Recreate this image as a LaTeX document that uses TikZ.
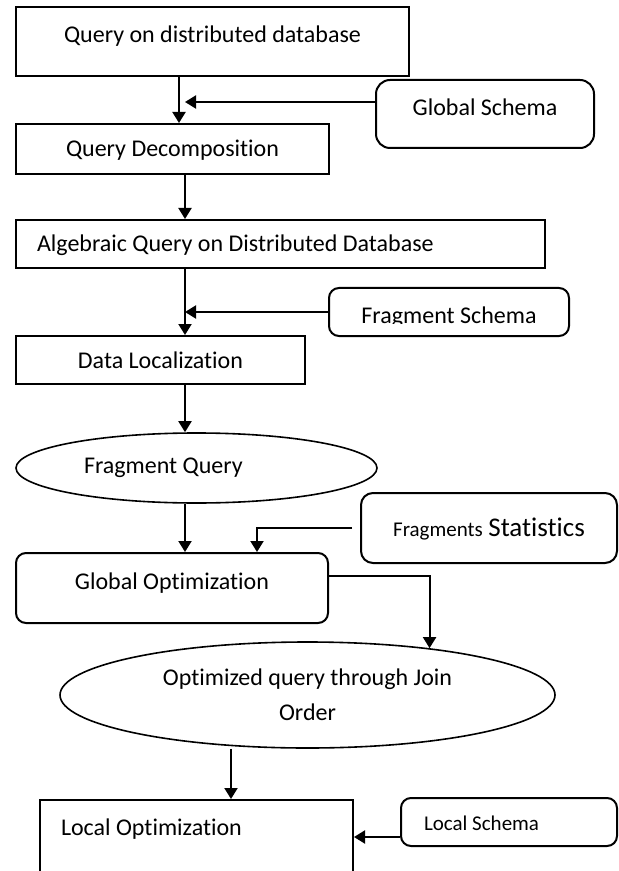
\documentclass[tikz,border=0pt]{standalone}
\usepackage{fontspec}
\setmainfont{Carlito}[Ligatures=NoCommon]
\usetikzlibrary{arrows.meta}
\usetikzlibrary{shapes.geometric}

\begin{document}
\begin{tikzpicture}[x=0.5pt, y=-0.5pt, line width=1pt]

\tikzstyle{every node}=[font=\fontsize{12}{17.5}\selectfont, inner sep=0pt]
\tikzstyle{stage}=[draw, rectangle, text height=8pt, text depth=0pt]
\tikzstyle{schema}=[stage, rounded corners=6pt]
\tikzstyle{result}=[draw, ellipse, line width=0.8pt]
\tikzstyle{flow}=[-{Triangle[width=6.5pt,length=5.5pt]}]

\useasboundingbox (0,0) rectangle (618,871);
\clip (0,0) rectangle (618,871);

\coordinate (top) at (179,0);
\coordinate (spine) at (185,0);
\coordinate (gstip) at (185,102);

% left column
\node (query) at (212.5,41.5) [stage, minimum width=196.5pt, minimum height=34.5pt,
	text depth=6.5pt] {Query on distributed database};
\node (decomp) at (172.5,149) [stage, minimum width=156.5pt, minimum height=25pt]
	{Query Decomposition};
\node (algq) at (280.5,244) [stage, minimum width=264.5pt, minimum height=24pt]
	{\makebox[243.5pt][l]{Algebraic Query on Distributed Database}};
\node (dataloc) at (160.5,360) [stage, minimum width=144.5pt, minimum height=24pt]
	{Data Localization};
\node (fragq) at (196.5,468) [result, minimum width=180.5pt, minimum height=35pt]
	{\makebox[112.5pt][l]{Fragment Query}};
\node (globopt) at (172,588) [schema, rounded corners=5pt, minimum width=156pt,
	minimum height=35pt, text depth=7pt] {Global Optimization};
\node (optq) at (307.5,695) [result, minimum width=247.5pt, minimum height=53pt,
	align=center] {Optimized query through Join\\Order};
\node (locopt) at (196.5,850) [stage, minimum width=156.5pt, minimum height=50pt,
	text depth=23pt] {\makebox[135.5pt][l]{Local Optimization}};

% schemas on the right
\node (globschema) at (485,114) [schema, rounded corners=7pt, minimum width=109pt,
	minimum height=34pt, text depth=6pt] {Global Schema};
\node (fragschema) at (449,312) [schema, rounded corners=5pt, minimum width=120pt,
	minimum height=24pt] {};
\begin{scope}
\clip (fragschema.north west) rectangle ([yshift=-5.75pt]fragschema.east);
\node (fragtext) at (449,315) [text height=8pt, text depth=0pt] {Fragment Schema};
\end{scope}
\node (stats) at (489,528) [schema, minimum width=128pt, minimum height=35pt]
	{{\fontsize{10.5}{12}\selectfont Fragments} {\fontsize{13.5}{16}\selectfont Statistics}};
\node (locschema) at (509,822) [schema, rounded corners=5pt, minimum width=108pt,
	minimum height=24pt, font=\fontsize{10.5}{12}\selectfont]
	{\makebox[85pt][l]{Local Schema}};

% arrows
\draw[flow] (query.south -| top) -- (decomp.north -| top);
\draw[flow] (globschema.west |- gstip) -- (gstip);
\draw[flow] (decomp.south -| spine) -- (algq.north -| spine);
\draw[flow] (algq.south -| spine) -- (dataloc.north -| spine);
\draw[flow] (fragschema.west) -- (fragschema.west -| spine);
\draw[flow] (dataloc.south -| spine) -- (fragq.north -| spine);
\draw[flow] (fragq.south -| spine) -- (globopt.north -| spine);
\draw[flow] ([xshift=-4pt]stats.west) -| ([xshift=42.5pt]globopt.north);
\draw[flow] ([yshift=6pt]globopt.east) -| (optq.21.4);
\draw[flow] ([xshift=17.25pt]locopt.north |- optq.south) -- ([xshift=17.25pt]locopt.north);
\draw[flow] ([yshift=-7.5pt]locschema.west) -- ([yshift=-7.5pt]locschema.west -| locopt.east);

\end{tikzpicture}
\end{document}
